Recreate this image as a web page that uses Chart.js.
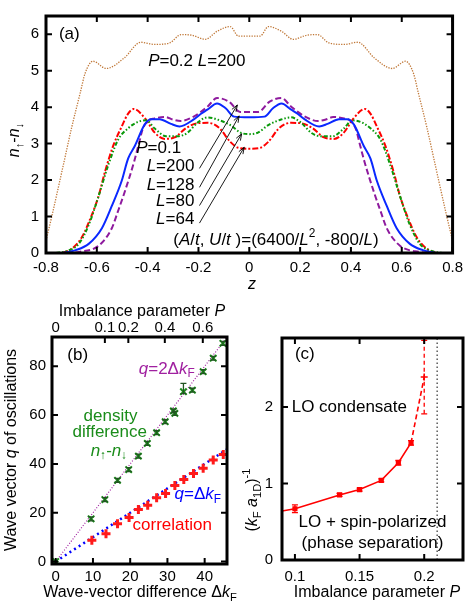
<!DOCTYPE html>
<html lang="en">
<head>
<meta charset="UTF-8">
<title>LO state: density difference, oscillation wave vector, phase boundary</title>
<script src="https://cdn.jsdelivr.net/npm/chart.js"></script>
<style>
  body { margin: 0; background: #fff; }
  canvas.panel { position: absolute; }
</style>
</head>
<body>
<canvas id="panelA" class="panel" width="469" height="300" style="left:0;top:0"></canvas>
<canvas id="panelB" class="panel" width="240" height="308" style="left:0;top:300px"></canvas>
<canvas id="panelC" class="panel" width="229" height="308" style="left:240px;top:300px"></canvas>
<script>
// ---------- panel (a): density difference profiles ----------
const aXTicks = [-0.8, -0.6, -0.4, -0.2, 0, 0.2, 0.4, 0.6, 0.8];
const aYTicks = [0, 1, 2, 3, 4, 5, 6];

// P=0.2, L=200
const zP02 = [-0.8, -0.776, -0.737, -0.698, -0.665, -0.646, -0.615, -0.563, -0.492, -0.427, -0.373, -0.314, -0.268, -0.225, -0.173, -0.127, -0.075, -0.043, 0,
              0.043, 0.075, 0.127, 0.173, 0.225, 0.268, 0.314, 0.373, 0.427, 0.492, 0.563, 0.615, 0.646, 0.665, 0.698, 0.737, 0.776, 0.8];
const nP02 = [0.34, 1.04, 2.25, 3.47, 4.4, 4.93, 5.26, 5.06, 5.35, 5.78, 5.72, 5.76, 5.99, 5.97, 5.86, 6.08, 6.21, 5.95, 5.95,
              5.95, 6.21, 6.08, 5.86, 5.97, 5.99, 5.76, 5.72, 5.78, 5.35, 5.06, 5.26, 4.93, 4.4, 3.47, 2.25, 1.04, 0.34];
// P=0.1, L=200
const zL200 = [-0.72, -0.67, -0.593, -0.541, -0.518, -0.492, -0.453, -0.433, -0.42, -0.399, -0.373, -0.33, -0.301, -0.27, -0.217, -0.165, -0.127, -0.08, -0.036, 0,
               0.036, 0.08, 0.127, 0.165, 0.217, 0.27, 0.301, 0.33, 0.373, 0.399, 0.42, 0.433, 0.453, 0.492, 0.518, 0.541, 0.593, 0.67, 0.72];
const nL200 = [0, 0.03, 0.2, 0.68, 1.12, 1.64, 2.51, 3.04, 3.39, 3.62, 3.69, 3.73, 3.66, 3.62, 3.75, 4.01, 4.25, 4.15, 3.87, 3.87,
               3.87, 4.15, 4.25, 4.01, 3.75, 3.62, 3.66, 3.73, 3.69, 3.62, 3.39, 3.04, 2.51, 1.64, 1.12, 0.68, 0.2, 0.03, 0];
// P=0.1, L=128
const zL128 = [-0.735, -0.683, -0.632, -0.58, -0.541, -0.502, -0.477, -0.45, -0.412, -0.386, -0.353, -0.308, -0.275, -0.217, -0.19, -0.165, -0.127, -0.093, -0.06, 0,
               0.06, 0.093, 0.127, 0.165, 0.19, 0.217, 0.275, 0.308, 0.353, 0.386, 0.412, 0.45, 0.477, 0.502, 0.541, 0.58, 0.632, 0.683, 0.735];
const nL128 = [0, 0.08, 0.25, 0.68, 1.29, 1.98, 2.59, 2.94, 3.52, 3.67, 3.67, 3.54, 3.47, 3.67, 3.82, 3.93, 4.1, 3.97, 3.74, 3.72,
               3.74, 3.97, 4.1, 3.93, 3.82, 3.67, 3.47, 3.54, 3.67, 3.67, 3.52, 2.94, 2.59, 1.98, 1.29, 0.68, 0.25, 0.08, 0];
// P=0.1, L=80
const zL80 = [-0.76, -0.72, -0.671, -0.632, -0.594, -0.555, -0.516, -0.477, -0.44, -0.405, -0.373, -0.327, -0.282, -0.245, -0.203, -0.164, -0.125, -0.073, -0.034, 0,
              0.034, 0.073, 0.125, 0.164, 0.203, 0.245, 0.282, 0.327, 0.373, 0.405, 0.44, 0.477, 0.516, 0.555, 0.594, 0.632, 0.671, 0.72, 0.76];
const nL80 = [0, 0.05, 0.25, 0.77, 1.54, 2.41, 3.11, 3.42, 3.59, 3.64, 3.42, 3.2, 3.2, 3.29, 3.58, 3.72, 3.66, 3.5, 3.3, 3.26,
              3.3, 3.5, 3.66, 3.72, 3.58, 3.29, 3.2, 3.2, 3.42, 3.64, 3.59, 3.42, 3.11, 2.41, 1.54, 0.77, 0.25, 0.05, 0];
// P=0.1, L=64
const zL64 = [-0.735, -0.698, -0.659, -0.62, -0.594, -0.567, -0.535, -0.502, -0.478, -0.455, -0.41, -0.372, -0.333, -0.294, -0.248, -0.203, -0.165, -0.139, -0.114, -0.075, -0.04, 0,
              0.04, 0.075, 0.114, 0.139, 0.165, 0.203, 0.248, 0.294, 0.333, 0.372, 0.41, 0.455, 0.478, 0.502, 0.535, 0.567, 0.594, 0.62, 0.659, 0.698, 0.735];
const nL64 = [0, 0.12, 0.43, 1.04, 1.54, 2.25, 2.95, 3.47, 3.81, 3.95, 3.69, 3.3, 3.13, 3.17, 3.43, 3.56, 3.57, 3.53, 3.4, 3.05, 2.88, 2.86,
              2.88, 3.05, 3.4, 3.53, 3.57, 3.56, 3.43, 3.17, 3.13, 3.3, 3.69, 3.95, 3.81, 3.47, 2.95, 2.25, 1.54, 1.04, 0.43, 0.12, 0];

// ---------- panel (b): wave vector of oscillations ----------
const bXTicks = [0, 10, 20, 30, 40];
const bYTicks = [0, 20, 40, 60, 80];
const bTopDk = [0, 13.2, 19.5, 29.3, 39.5];       // where the P ticks sit on the dk axis
const bTopLabels = ['0', '0.1', '0.2', '0.4', '0.6'];

const densDk = [0, 9.5, 13.2, 16.6, 19.6, 22.2, 24.6, 27.1, 29.4, 31.6, 32.0, 34.3, 36.7, 39.6, 42.3, 44.9];
const densQ  = [0, 17.5, 25.4, 33.3, 37.7, 43.2, 48.4, 52.8, 57.3, 61.7, 60.7, 69.6, 70.2, 77.8, 83.3, 89.4];
const densLo = [0, 16.7, 24.6, 32.5, 36.9, 42.4, 47.6, 52.0, 56.5, 60.9, 59.9, 68.8, 69.4, 77.0, 82.5, 88.6];
const densHi = [0, 18.3, 26.2, 34.1, 38.5, 44.0, 49.2, 53.6, 58.1, 62.5, 61.5, 73.0, 71.0, 78.6, 84.1, 90.2];
const corrDk = [9.7, 13.5, 16.6, 19.7, 22.2, 24.7, 27.1, 29.5, 32, 34.4, 37, 39.6, 42.3, 45];
const corrQ  = [8.7, 11.4, 15.5, 18.1, 21.3, 23.1, 26.1, 27.9, 31.2, 33.6, 36.1, 38.2, 41.6, 43.9];
const guideDk = [0, 46];
const guide2Q = [0, 92];   // q = 2 dk
const guide1Q = [0, 46];   // q = dk

// ---------- panel (c): phase boundary ----------
const cXTicks = [0.1, 0.15, 0.2];
const cYTicks = [0, 1, 2];
const lineP   = [0.09, 0.1, 0.1345, 0.15, 0.1668, 0.18, 0.1898];
const lineInv = [0.64, 0.67, 0.85, 0.92, 1.04, 1.27, 1.53];
const lineLo  = [null, 0.62, 0.83, 0.90, 1.02, 1.24, 1.50];
const lineHi  = [null, 0.72, 0.87, 0.94, 1.06, 1.30, 1.56];
const dashP   = [0.1898, 0.2];
const dashInv = [1.53, 2.39];
const dashLo  = [null, 1.91];
const dashHi  = [null, 2.87];
const limitP  = [0.21, 0.21];
const limitInv = [0, 2.9];

// ---------- drawing helpers ----------
const FONT = '"Liberation Sans", Arial, Helvetica, sans-serif';

function segFont(st, size) {
  const small = st.includes('s') || st.includes('p');
  return (st.includes('i') ? 'italic ' : '') + (small ? size * 0.7 : size) + 'px ' + FONT;
}

// segs: [[text, flags]] with flags i = italic, s = subscript, p = superscript
function drawRich(ctx, segs, x, y, size, align, color) {
  let w = 0;
  segs.forEach(([t, st]) => { ctx.font = segFont(st, size); w += ctx.measureText(t).width; });
  let cx = align === 'center' ? x - w / 2 : align === 'right' ? x - w : x;
  ctx.fillStyle = color;
  ctx.textBaseline = 'middle';
  ctx.textAlign = 'left';
  segs.forEach(([t, st]) => {
    ctx.font = segFont(st, size);
    const dy = st.includes('s') ? size * 0.3 : st.includes('p') ? -size * 0.38 : 0;
    ctx.fillText(t, cx, y + dy);
    cx += ctx.measureText(t).width;
  });
}

const pts = (xs, ys) => xs.map((v, i) => ({ x: v, y: ys[i] }));

const decorCfg = {};

const decor = {
  id: 'decor',
  afterDatasetsDraw(chart) {
    const ctx = chart.ctx, a = chart.chartArea, ys = chart.scales.y;
    chart.data.datasets.forEach((ds, i) => {
      if (!ds.errLo) return;
      const meta = chart.getDatasetMeta(i);
      ctx.save();
      ctx.beginPath();
      ctx.rect(a.left, a.top, a.width, a.height);
      ctx.clip();
      ctx.strokeStyle = ds.errColor || ds.borderColor;
      ctx.lineWidth = 1.3;
      meta.data.forEach((pt, j) => {
        if (ds.errLo[j] == null) return;
        const y1 = ys.getPixelForValue(ds.errLo[j]), y2 = ys.getPixelForValue(ds.errHi[j]);
        ctx.setLineDash(ds.errDash || []);
        ctx.beginPath();
        ctx.moveTo(pt.x, y1); ctx.lineTo(pt.x, y2);
        ctx.stroke();
        ctx.setLineDash([]);
        ctx.beginPath();
        ctx.moveTo(pt.x - 3, y1); ctx.lineTo(pt.x + 3, y1);
        ctx.moveTo(pt.x - 3, y2); ctx.lineTo(pt.x + 3, y2);
        ctx.stroke();
      });
      ctx.restore();
    });
  },
  afterDraw(chart) {
    const cfg = decorCfg[chart.canvas.id];
    if (!cfg) return;
    const ctx = chart.ctx, a = chart.chartArea;
    const sx = chart.scales.x, sy = chart.scales.y;
    ctx.save();
    // inward ticks
    ctx.strokeStyle = '#000';
    ctx.lineWidth = 2;
    cfg.ticks.forEach(t => {
      const s = chart.scales[t.scale];
      t.values.forEach(v => {
        const p = s.getPixelForValue(v);
        ctx.beginPath();
        t.sides.forEach(side => {
          if (side === 'bottom') { ctx.moveTo(p, a.bottom); ctx.lineTo(p, a.bottom - 6); }
          if (side === 'top') { ctx.moveTo(p, a.top); ctx.lineTo(p, a.top + 6); }
          if (side === 'left') { ctx.moveTo(a.left, p); ctx.lineTo(a.left + 6, p); }
          if (side === 'right') { ctx.moveTo(a.right, p); ctx.lineTo(a.right - 6, p); }
        });
        ctx.stroke();
      });
    });
    // frame
    ctx.lineWidth = 3;
    ctx.strokeRect(a.left, a.top, a.width, a.height);
    // arrows
    ctx.lineWidth = 0.9;
    (cfg.arrows || []).forEach(([x1, y1, x2, y2]) => {
      const p1 = [sx.getPixelForValue(x1), sy.getPixelForValue(y1)];
      const p2 = [sx.getPixelForValue(x2), sy.getPixelForValue(y2)];
      const ang = Math.atan2(p2[1] - p1[1], p2[0] - p1[0]);
      ctx.beginPath();
      ctx.moveTo(p1[0], p1[1]); ctx.lineTo(p2[0], p2[1]);
      ctx.moveTo(p2[0] - 7 * Math.cos(ang - 0.35), p2[1] - 7 * Math.sin(ang - 0.35));
      ctx.lineTo(p2[0], p2[1]);
      ctx.lineTo(p2[0] - 7 * Math.cos(ang + 0.35), p2[1] - 7 * Math.sin(ang + 0.35));
      ctx.stroke();
    });
    // labels inside the plot, in data coordinates
    (cfg.labels || []).forEach(l => {
      drawRich(ctx, l.segs, sx.getPixelForValue(l.x), sy.getPixelForValue(l.y), 17, l.align, l.color || '#000');
    });
    // axis titles, in canvas pixels
    (cfg.titles || []).forEach(t => {
      if (t.rot) {
        ctx.save();
        ctx.translate(t.px, t.py);
        ctx.rotate(-Math.PI / 2);
        drawRich(ctx, t.segs, 0, 0, 16, 'center', '#000');
        ctx.restore();
      } else {
        drawRich(ctx, t.segs, t.px, t.py, 16, 'center', '#000');
      }
    });
    ctx.restore();
  }
};
Chart.register(decor);

function axis(min, max, tickVals, size, pad, extra) {
  return Object.assign({
    type: 'linear', min: min, max: max,
    afterBuildTicks: s => { s.ticks = tickVals.map(v => ({ value: v })); },
    ticks: { font: { family: FONT, size: 15 }, color: '#000', padding: pad, callback: v => String(v) },
    grid: { display: false, drawTicks: false },
    border: { display: false },
    afterFit: s => { if (s.isHorizontal()) s.height = size; else s.width = size; }
  }, extra || {});
}

const common = {
  responsive: false,
  animation: false,
  events: [],
  plugins: { legend: { display: false }, tooltip: { enabled: false } }
};

// ---------- chart (a) ----------
const GREEN = '#1a8c1a';
const curve = (xs, ys, color, dash, w) => ({
  data: pts(xs, ys), showLine: true, borderColor: color, borderWidth: w, borderDash: dash,
  pointRadius: 0, cubicInterpolationMode: 'monotone', fill: false
});

decorCfg.panelA = {
  ticks: [{ scale: 'x', values: aXTicks, sides: ['bottom', 'top'] },
          { scale: 'y', values: aYTicks, sides: ['left', 'right'] }],
  arrows: [[-0.196, 2.32, -0.047, 4.06], [-0.196, 1.8, -0.04, 3.76],
           [-0.196, 1.3, -0.03, 3.27], [-0.196, 0.82, -0.02, 2.9]],
  labels: [
    { x: -0.749, y: 5.99, align: 'left', segs: [['(a)', '']] },
    { x: -0.398, y: 5.26, align: 'left', segs: [['P', 'i'], ['=0.2 ', ''], ['L', 'i'], ['=200', '']] },
    { x: -0.445, y: 2.86, align: 'left', segs: [['P', 'i'], ['=0.1', '']] },
    { x: -0.216, y: 2.38, align: 'right', segs: [['L', 'i'], ['=200', '']] },
    { x: -0.216, y: 1.86, align: 'right', segs: [['L', 'i'], ['=128', '']] },
    { x: -0.216, y: 1.43, align: 'right', segs: [['L', 'i'], ['=80', '']] },
    { x: -0.216, y: 0.92, align: 'right', segs: [['L', 'i'], ['=64', '']] },
    { x: 0.105, y: 0.34, align: 'center', segs: [['(', ''], ['A', 'i'], ['/', ''], ['t', 'i'], [', ', ''], ['U', 'i'], ['/', ''], ['t', 'i'],
        [' )=(6400/', ''], ['L', 'i'], ['2', 'p'], [', -800/', ''], ['L', 'i'], [')', '']] }
  ],
  titles: [
    { px: 252, py: 285, segs: [['z', 'i']] },
    { px: 15, py: 140, rot: true, segs: [['n', 'i'], ['↑', 's'], ['-', ''], ['n', 'i'], ['↓', 's']] }
  ]
};

new Chart(document.getElementById('panelA'), {
  type: 'scatter',
  data: {
    datasets: [
      curve(zL128, nL128, '#0a28ff', [], 2),
      curve(zL200, nL200, '#8e1a9e', [6, 3], 2),
      curve(zL80, nL80, '#0a990a', [4, 2, 1.5, 2, 1.5, 2], 2),
      curve(zL64, nL64, '#ff0000', [6, 2, 2, 2], 2),
      curve(zP02, nP02, '#c07838', [1.3, 1.3], 1.3)
    ]
  },
  options: Object.assign({}, common, {
    layout: { padding: { left: 0, right: 12, top: 4, bottom: 0 } },
    scales: {
      x: axis(-0.8, 0.8, aXTicks, 47, 6),
      y: axis(0, 6.5, aYTicks, 46, 7)
    }
  })
});

// ---------- chart (b) ----------
decorCfg.panelB = {
  ticks: [{ scale: 'x', values: bXTicks, sides: ['bottom'] },
          { scale: 'x2', values: bTopDk.slice(1), sides: ['top'] },
          { scale: 'y', values: bYTicks, sides: ['left', 'right'] }],
  labels: [
    { x: 3.1, y: 84.4, align: 'left', segs: [['(b)', '']] },
    { x: 22.3, y: 78.9, align: 'left', color: '#a020a0', segs: [['q', 'i'], ['=2Δ', ''], ['k', 'i'], ['F', 's']] },
    { x: 14.7, y: 59.5, align: 'center', color: GREEN, segs: [['density', '']] },
    { x: 14.5, y: 52.9, align: 'center', color: GREEN, segs: [['difference', '']] },
    { x: 14.3, y: 45.3, align: 'center', color: GREEN, segs: [['n', 'i'], ['↑', 's'], ['-', ''], ['n', 'i'], ['↓', 's']] },
    { x: 31.9, y: 27.6, align: 'left', color: '#0000ff', segs: [['q', 'i'], ['=Δ', ''], ['k', 'i'], ['F', 's']] },
    { x: 31.3, y: 14.8, align: 'center', color: '#ff0000', segs: [['correlation', '']] }
  ],
  titles: [
    { px: 142, py: 12, segs: [['Imbalance parameter ', ''], ['P', 'i']] },
    { px: 140, py: 293, segs: [['Wave-vector difference Δ', ''], ['k', 'i'], ['F', 's']] },
    { px: 12, py: 150, rot: true, segs: [['Wave vector ', ''], ['q', 'i'], [' of oscillations', '']] }
  ]
};

new Chart(document.getElementById('panelB'), {
  type: 'scatter',
  data: {
    datasets: [
      { data: pts(corrDk, corrQ), pointStyle: 'cross', pointRadius: 4.5, borderWidth: 3,
        borderColor: '#ff1a1a', backgroundColor: '#ff1a1a' },
      { data: pts(densDk, densQ), pointStyle: 'crossRot', pointRadius: 4.5, borderWidth: 2,
        borderColor: GREEN, backgroundColor: GREEN, errLo: densLo, errHi: densHi, errColor: '#225522' },
      { data: pts(guideDk, guide1Q), showLine: true, pointRadius: 0, borderColor: '#0000ff',
        borderWidth: 2.5, borderDash: [2, 3.5] },
      { data: pts(guideDk, guide2Q), showLine: true, pointRadius: 0, borderColor: '#a020a0',
        borderWidth: 1.2, borderDash: [1, 1.8] }
    ]
  },
  options: Object.assign({}, common, {
    layout: { padding: { left: 0, right: 13, top: 0, bottom: 0 } },
    scales: {
      x: axis(-1, 46, bXTicks, 44, 4),
      x2: axis(-1, 46, bTopDk, 37, 0, {
        position: 'top',
        ticks: { font: { family: FONT, size: 15 }, color: '#000', padding: 0, callback: (v, i) => bTopLabels[i] }
      }),
      y: axis(-1, 92, bYTicks, 52, 6)
    }
  })
});

// ---------- chart (c) ----------
decorCfg.panelC = {
  ticks: [{ scale: 'x', values: cXTicks, sides: ['bottom', 'top'] },
          { scale: 'y', values: cYTicks, sides: ['left', 'right'] }],
  labels: [
    { x: 0.1, y: 2.69, align: 'left', segs: [['(c)', '']] },
    { x: 0.0975, y: 1.99, align: 'left', segs: [['LO condensate', '']] },
    { x: 0.16, y: 0.49, align: 'center', segs: [['LO + spin-polarized', '']] },
    { x: 0.16, y: 0.22, align: 'center', segs: [['(phase separation)', '']] }
  ],
  titles: [
    { px: 137, py: 293, segs: [['Imbalance parameter ', ''], ['P', 'i']] },
    { px: 13, py: 200, rot: true, segs: [['(', ''], ['k', 'i'], ['F', 's'], [' ', ''], ['a', 'i'], ['1D', 's'], [')', ''], ['-1', 'p']] }
  ]
};

new Chart(document.getElementById('panelC'), {
  type: 'scatter',
  data: {
    datasets: [
      { data: pts(lineP, lineInv), showLine: true, borderColor: '#ff0000', backgroundColor: '#ff0000',
        borderWidth: 1.6, pointStyle: 'rect', pointRadius: [0, 2.5, 2.5, 2.5, 2.5, 2.5, 2.5],
        errLo: lineLo, errHi: lineHi },
      { data: pts(dashP, dashInv), showLine: true, borderColor: '#ff0000', backgroundColor: '#ff0000',
        borderWidth: 1.6, borderDash: [5, 3], pointStyle: 'cross', pointRadius: [0, 3.5],
        errLo: dashLo, errHi: dashHi, errDash: [4, 3] },
      { data: pts(limitP, limitInv), showLine: true, borderColor: '#333', borderWidth: 1.2,
        borderDash: [1.5, 2.5], pointRadius: 0 }
    ]
  },
  options: Object.assign({}, common, {
    layout: { padding: { left: 0, right: 6, top: 38, bottom: 0 } },
    scales: {
      x: axis(0.09, 0.23, cXTicks, 48, 8),
      y: axis(0, 2.9, cYTicks, 42, 9)
    }
  })
});
</script>
</body>
</html>
